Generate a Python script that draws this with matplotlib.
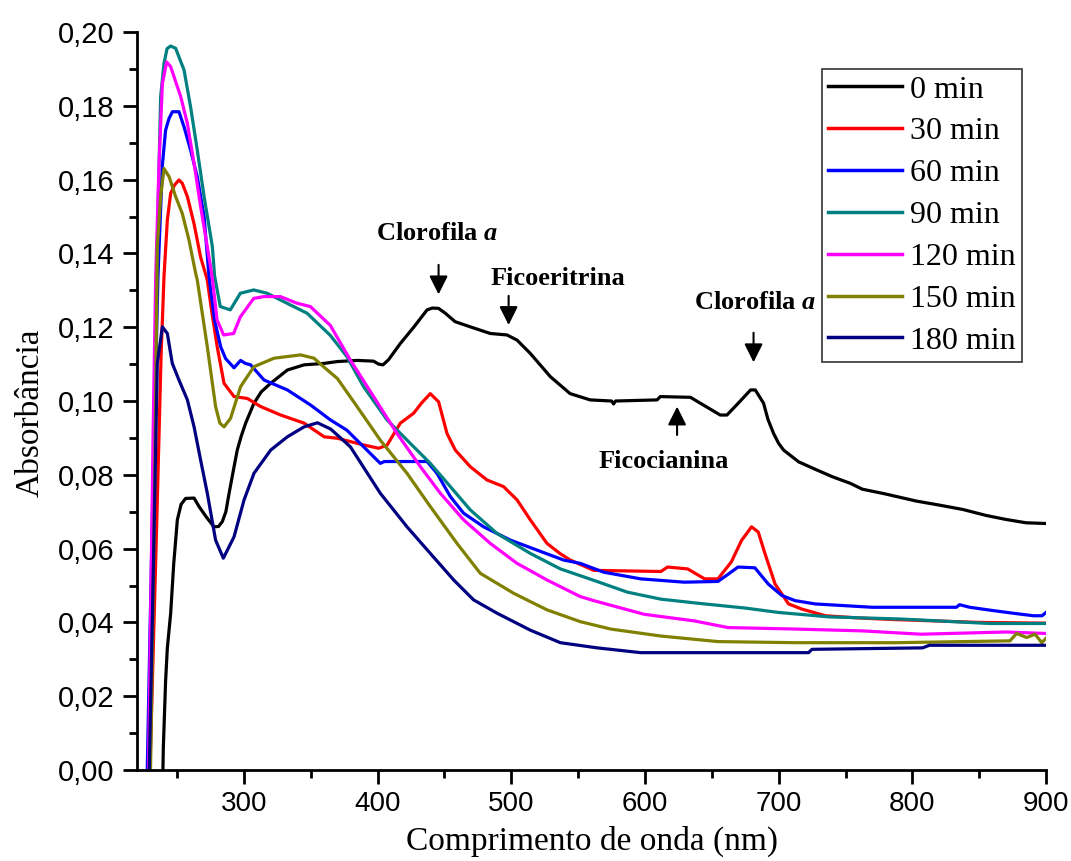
import matplotlib
matplotlib.use('Agg')
import matplotlib.pyplot as plt
from matplotlib.ticker import MultipleLocator, FuncFormatter

plt.rcParams['font.family'] = 'Liberation Sans'
plt.rcParams['mathtext.fontset'] = 'custom'
plt.rcParams['mathtext.bfit'] = 'Liberation Serif:italic:bold'
plt.rcParams['mathtext.rm'] = 'Liberation Serif:bold'

SERIF = 'Liberation Serif'

# absorption spectra of the extract, one per exposure time
wl_0 = [239.3, 239.7, 241.4, 242.7, 245.2, 247.5, 250.2, 253, 256.4, 262.7, 266.4, 272,
        277.6, 281, 283.8, 286.5, 288.9, 292, 295, 298, 301.3, 307.5, 313, 320, 332.5,
        345, 360, 370, 385, 397, 400.7, 404, 408.2, 417, 427, 437, 441, 445.6, 450.6,
        458, 469.3, 484.3, 496.8, 504.3, 514.2, 529.2, 544, 559, 575, 576.5, 578, 609,
        611.5, 634, 641.4, 656.3, 661.3, 670, 679, 682.5, 688.7, 692, 696.2, 700, 703.7,
        715, 728.6, 740, 753.5, 762.6, 780, 802.7, 820, 837.8, 855, 870, 885, 900]
abs_0 = [-0.002, 0.006, 0.024, 0.033, 0.0425, 0.056, 0.0678, 0.072, 0.0736, 0.0737, 0.0714,
         0.0685, 0.0659, 0.066, 0.0673, 0.070, 0.075, 0.081, 0.0867, 0.0905, 0.094, 0.0994,
         0.1025, 0.1048, 0.1084, 0.1098, 0.1102, 0.1107, 0.111, 0.1108, 0.110, 0.1098,
         0.1112, 0.1156, 0.120, 0.1247, 0.1252, 0.1251, 0.1238, 0.1215, 0.1201, 0.1183,
         0.1179, 0.1165, 0.1129, 0.1066, 0.102, 0.1003, 0.1000, 0.0992, 0.1000, 0.1003,
         0.1012, 0.1010, 0.0994, 0.0962, 0.0962, 0.0995, 0.1030, 0.1030, 0.0994, 0.095,
         0.0912, 0.0885, 0.0867, 0.0835, 0.0813, 0.0795, 0.0777, 0.0761, 0.0748, 0.0729,
         0.0718, 0.0706, 0.069, 0.0679, 0.067, 0.0668]

wl_30 = [229.5, 235, 238, 240.2, 242.7, 245.2, 248, 251.4, 253.9, 257.7, 262.7, 267.6,
         272.6, 276, 280, 285.1, 292.6, 302.5, 312.5, 327.5, 345, 360, 369.9, 389.5,
         400.7, 407, 417, 427, 433, 439.4, 445.6, 451.9, 458.1, 469.3, 481.8, 494.2,
         504.3, 514.2, 526.7, 536.7, 544.1, 561.7, 611.9, 616.9, 631.9, 644.6, 654.6,
         664.6, 672.2, 679.7, 684.7, 689.8, 697.3, 707.4, 717.4, 735, 760, 784, 850, 900]
abs_30 = [-0.003, 0.07, 0.112, 0.1337, 0.149, 0.1563, 0.1585, 0.1599, 0.159, 0.1554, 0.148,
          0.139, 0.1328, 0.124, 0.1147, 0.1048, 0.1012, 0.1007, 0.0985, 0.0962, 0.094,
          0.0903, 0.0899, 0.0881, 0.0872, 0.088, 0.094, 0.0967, 0.0995, 0.102, 0.0998,
          0.0912, 0.0867, 0.0822, 0.0786, 0.0768, 0.0732, 0.0678, 0.0614, 0.0586, 0.0569,
          0.0541, 0.0538, 0.055, 0.0545, 0.0518, 0.0518, 0.0564, 0.0622, 0.0659, 0.0645,
          0.0586, 0.0504, 0.045, 0.0436, 0.0418, 0.0412, 0.0408, 0.0400, 0.0398]

wl_60 = [227.5, 231, 233.5, 235.7, 239, 241.4, 244, 246.5, 251.4, 255.2, 260.1, 265.1,
         270.2, 273.9, 278, 282.6, 286.3, 292.6, 297.5, 301, 305, 315, 332.5, 349.9,
         364.6, 377, 389.5, 402, 405, 437, 444.4, 454.4, 464.3, 479.3, 499.3, 519.2,
         539.1, 551.6, 569.2, 596.8, 629.4, 654.6, 662, 669.6, 682.2, 692.2, 702.3,
         712.3, 727.4, 770, 833, 835.3, 842.9, 860.5, 875, 890.6, 897, 900]
abs_60 = [-0.003, 0.06, 0.10, 0.1337, 0.164, 0.1734, 0.1766, 0.1784, 0.1784, 0.1743, 0.168,
          0.1608, 0.15, 0.1337, 0.122, 0.1147, 0.1115, 0.109, 0.111, 0.1102, 0.1098,
          0.1057, 0.103, 0.0989, 0.0949, 0.0921, 0.0876, 0.0831, 0.0836, 0.0836, 0.0804,
          0.0741, 0.0696, 0.0659, 0.0623, 0.0596, 0.0569, 0.056, 0.0536, 0.0518, 0.0509,
          0.0511, 0.053, 0.055, 0.0548, 0.0504, 0.0473, 0.0459, 0.045, 0.0441, 0.0441,
          0.0448, 0.0441, 0.0432, 0.0425, 0.0418, 0.0418, 0.0427]

wl_90 = [229, 232.5, 235, 237.7, 240.2, 242.5, 245.2, 248.9, 255.2, 260.1, 265.1, 270.2,
         276.4, 278, 282.3, 289.8, 297.3, 307.3, 317.3, 332.2, 347.2, 364.6, 377.1, 389.5,
         407, 422, 439.4, 454.4, 469.3, 489.3, 514.2, 536.7, 561.7, 586.8, 611.9, 642,
         674.7, 699.8, 737.5, 792.7, 858, 900]
abs_90 = [-0.003, 0.08, 0.14, 0.1825, 0.1915, 0.1955, 0.1962, 0.1956, 0.1897, 0.1797, 0.168,
          0.1554, 0.1418, 0.134, 0.1256, 0.1247, 0.1292, 0.1301, 0.1292, 0.1265, 0.1238,
          0.1178, 0.112, 0.1039, 0.0949, 0.0894, 0.0831, 0.0768, 0.0705, 0.0641, 0.0587,
          0.0545, 0.0514, 0.0482, 0.0463, 0.0451, 0.0439, 0.0427, 0.0415, 0.0409, 0.0397,
          0.0397]

wl_120 = [228.5, 232, 234, 236.5, 239, 242.2, 245.2, 252.7, 257.7, 262.7, 267.6, 272.6,
          276.4, 279.9, 284.8, 292.3, 297.3, 307.3, 314.7, 327.2, 339.7, 349.7, 364.6,
          379.6, 397, 414.5, 432, 446.9, 464.3, 484.3, 504.3, 526.7, 551.6, 561.7, 599.3,
          637, 662.1, 712.3, 762.5, 806.4, 870, 900]
abs_120 = [-0.003, 0.09, 0.1337, 0.1644, 0.186, 0.1919, 0.1906, 0.1825, 0.1752, 0.1644,
           0.1527, 0.1418, 0.1332, 0.122, 0.1179, 0.1183, 0.1228, 0.1278, 0.1283, 0.1283,
           0.1265, 0.1256, 0.1205, 0.1111, 0.1012, 0.0912, 0.0822, 0.075, 0.0678, 0.0614,
           0.056, 0.0515, 0.047, 0.0459, 0.0422, 0.0404, 0.0386, 0.0382, 0.0377, 0.0368,
           0.0374, 0.037]

wl_150 = [230, 233, 235.2, 237.7, 240.2, 244, 248.9, 253.9, 258.9, 263.9, 265.1, 272.6,
          278.8, 282, 285.1, 290, 297.5, 307.5, 322.5, 342.4, 352.4, 362.4, 369.9, 384.6,
          402, 422, 439.4, 459.4, 476.8, 501.7, 526.7, 551.6, 574.3, 611.9, 654.6, 712.3,
          787.6, 873, 878, 885.5, 891.8, 896.8, 900]
abs_150 = [-0.003, 0.07, 0.1418, 0.1554, 0.163, 0.1608, 0.1554, 0.1508, 0.1436, 0.1346,
           0.1328, 0.1147, 0.0985, 0.094, 0.093, 0.0953, 0.1039, 0.1093, 0.1116, 0.1125,
           0.1116, 0.1084, 0.1061, 0.0985, 0.0894, 0.0804, 0.0714, 0.0614, 0.0533, 0.0479,
           0.0434, 0.0402, 0.0382, 0.0363, 0.0348, 0.0345, 0.0345, 0.035, 0.037, 0.0359,
           0.0368, 0.0345, 0.0357]

wl_180 = [229, 232, 235.2, 239, 242.7, 246.4, 251.4, 257.7, 262.7, 267.6, 272.6, 278.8,
          284.6, 292.6, 300.1, 307.5, 320, 332.5, 345, 355, 364.9, 379.6, 402, 422, 439.4,
          456.9, 471.8, 489.3, 514.2, 536.7, 564.2, 596.8, 722.4, 724.9, 807.7, 812.7, 900]
abs_180 = [-0.003, 0.05, 0.1102, 0.1201, 0.1183, 0.1102, 0.1057, 0.1003, 0.093, 0.084,
           0.075, 0.0623, 0.0574, 0.0632, 0.0732, 0.0804, 0.0867, 0.0903, 0.093, 0.0941,
           0.0924, 0.0876, 0.075, 0.0659, 0.0587, 0.0515, 0.0461, 0.0425, 0.0379, 0.0345,
           0.0331, 0.0318, 0.0318, 0.0327, 0.0331, 0.0338, 0.0338]

labels = ['0 min', '30 min', '60 min', '90 min', '120 min', '150 min', '180 min']
colors = ['#000000', '#FF0000', '#0000FF', '#008080', '#FF00FF', '#808000', '#000080']
spectra = [(wl_0, abs_0), (wl_30, abs_30), (wl_60, abs_60), (wl_90, abs_90),
           (wl_120, abs_120), (wl_150, abs_150), (wl_180, abs_180)]

# pigment bands: (text, text x, text y, arrow tail, arrow tip)
peak_names = ['Clorofila $\\mathbfit{a}$', 'Ficoeritrina', 'Clorofila $\\mathbfit{a}$', 'Ficocianina']
peak_text_xy = [(444.4, 0.1453), (534.8, 0.1331), (682.5, 0.1267), (613.7, 0.0837)]
peak_tail = [(445.6, 0.1369), (498.0, 0.1285), (681.2, 0.1185), (624.0, 0.0908)]
peak_tip = [(445.6, 0.1289), (498.0, 0.1206), (681.2, 0.1105), (624.0, 0.0985)]

fig = plt.figure(figsize=(10.71, 8.61), dpi=100)
ax = fig.add_axes([0.1279, 0.1057, 0.8488, 0.8571])

for (wl, a), lab, col in zip(spectra, labels, colors):
    ax.plot(wl, a, color=col, lw=2.3, label=lab)

ax.set_xlim(220, 900)
ax.set_ylim(0, 0.20)
ax.xaxis.set_major_locator(MultipleLocator(100))
ax.xaxis.set_minor_locator(MultipleLocator(50))
ax.yaxis.set_major_locator(MultipleLocator(0.02))
ax.yaxis.set_minor_locator(MultipleLocator(0.01))
ax.yaxis.set_major_formatter(FuncFormatter(lambda v, p: f'{v:.2f}'.replace('.', ',')))
ax.xaxis.set_major_formatter(FuncFormatter(lambda v, p: '' if v < 300 else f'{v:.0f}'))

ax.spines['top'].set_visible(False)
ax.spines['right'].set_visible(False)
for s in ['left', 'bottom']:
    ax.spines[s].set_linewidth(2.0)
ax.tick_params(which='major', direction='out', length=10, width=2.0, labelsize=20)
ax.tick_params(which='minor', direction='out', length=6, width=2.0)
ax.tick_params(axis='y', pad=6, labelsize=21)
ax.tick_params(axis='x', pad=5)

ax.set_xlabel('Comprimento de onda (nm)', fontsize=24, family=SERIF)
ax.set_ylabel('Absorbância', fontsize=24, family=SERIF)
ax.xaxis.set_label_coords(0.5, -0.076)
ax.yaxis.set_label_coords(-0.101, 0.484)

for name, txy, tail, tip in zip(peak_names, peak_text_xy, peak_tail, peak_tip):
    ax.text(txy[0], txy[1], name, fontsize=19, fontweight='bold', family=SERIF,
            ha='center', va='center')
    ax.annotate('', xy=tip, xytext=tail,
                arrowprops=dict(arrowstyle='-|>', color='black', lw=1.5,
                                mutation_scale=28, shrinkA=0, shrinkB=0))

leg = ax.legend(loc='upper left', bbox_to_anchor=(0.7536, 0.95), borderaxespad=0,
                prop={'family': SERIF, 'size': 23}, frameon=True, fancybox=False,
                handlelength=2.3, handletextpad=0.25, labelspacing=0.39, borderpad=0.2)
leg.get_frame().set_edgecolor('black')
leg.get_frame().set_linewidth(1.2)
for ln in leg.get_lines():
    ln.set_linewidth(2.5)

fig.savefig('out.png', dpi=100)
